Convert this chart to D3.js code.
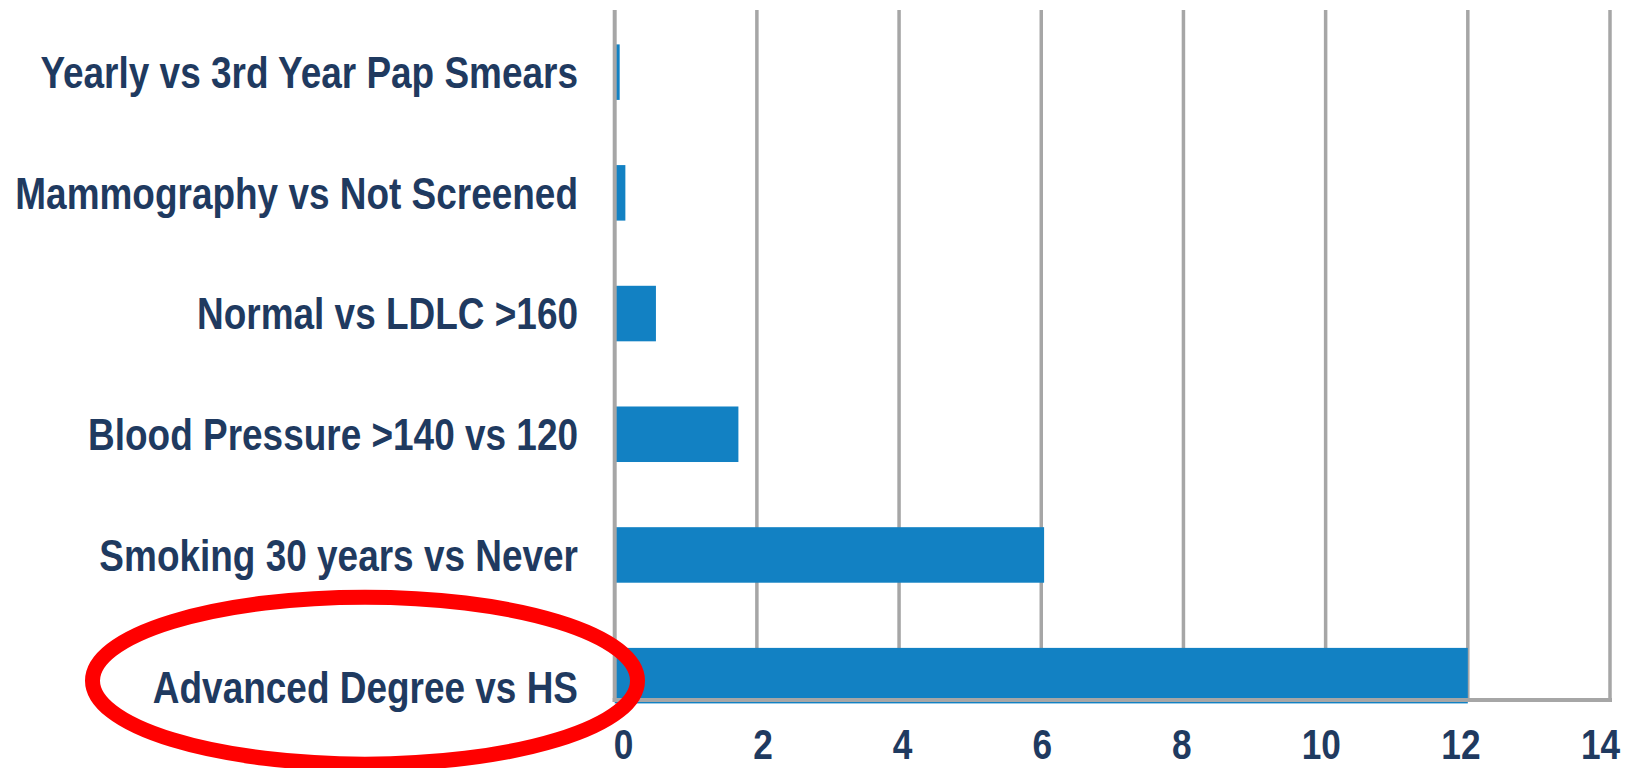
<!DOCTYPE html>
<html>
<head>
<meta charset="utf-8">
<script src="https://cdn.jsdelivr.net/npm/d3@7"></script>
<style>
  html, body { margin: 0; padding: 0; background: #fff; }
  svg { display: block; }
  text { font-family: "Liberation Sans Narrow", "Liberation Sans", Arial, sans-serif; font-weight: bold; }
</style>
</head>
<body>
<svg id="chart" width="1626" height="768"></svg>
<script>
const categories = [
  "Yearly vs 3rd Year Pap Smears",
  "Mammography vs Not Screened",
  "Normal vs LDLC >160",
  "Blood Pressure >140 vs 120",
  "Smoking 30 years vs Never",
  "Advanced Degree vs HS"
];
const values = [0.07, 0.15, 0.58, 1.74, 6.04, 12.0];
const tickValues = [0, 2, 4, 6, 8, 10, 12, 14];
const highlighted = "Advanced Degree vs HS";

const data = categories.map((c, i) => ({ cat: c, val: values[i] }));

const SVG = d3.select("#chart");
const TEXT = "#1f3a60";
const GRID = "#a6a6a6";
const BAR = "#1281c3";
const SQUEEZE = 0.84; // narrow look, the condensed face is not installed

const plot = { left: 614.7, right: 1610, top: 10, bottom: 700 };

const x = d3.scaleLinear().domain([0, 14]).range([plot.left, plot.right]);
// tick labels sit slightly inside the gridlines in the original
const xLab = d3.scaleLinear().domain([0, 14]).range([623, 1600]);

const y = d3.scaleBand()
  .domain(categories)
  .range([11.8, 736])
  .paddingInner(0.54)
  .paddingOuter(0.27);

// gridlines
SVG.append("g").selectAll("line")
  .data(tickValues.filter(d => d > 0))
  .join("line")
  .attr("x1", d => x(d)).attr("x2", d => x(d))
  .attr("y1", plot.top).attr("y2", plot.bottom)
  .attr("stroke", GRID)
  .attr("stroke-width", 3.5);

// bars
SVG.append("g").selectAll("rect")
  .data(data)
  .join("rect")
  .attr("x", x(0))
  .attr("y", d => y(d.cat))
  .attr("width", d => x(d.val) - x(0))
  .attr("height", y.bandwidth())
  .attr("fill", BAR);

// axis lines on top
SVG.append("line")
  .attr("x1", x(0)).attr("x2", x(0))
  .attr("y1", plot.top).attr("y2", plot.bottom + 2)
  .attr("stroke", GRID).attr("stroke-width", 4);
SVG.append("line")
  .attr("x1", x(0) - 2).attr("x2", x(14) + 2)
  .attr("y1", plot.bottom).attr("y2", plot.bottom)
  .attr("stroke", GRID).attr("stroke-width", 4);

// category labels (the last one sits a little low in the original)
SVG.append("g").selectAll("g")
  .data(categories)
  .join("g")
  .attr("transform", d => `translate(578,${y(d) + y.bandwidth() / 2 + (d === highlighted ? 11 : 0)}) scale(${SQUEEZE},1)`)
  .append("text")
  .attr("dy", "0.36em")
  .attr("text-anchor", "end")
  .attr("fill", TEXT)
  .style("font-size", "44px")
  .text(d => d);

// x tick labels
const xAxis = SVG.append("g")
  .attr("transform", `translate(0,${759})`)
  .call(d3.axisBottom(xLab).tickValues(tickValues).tickSize(0).tickPadding(0).tickFormat(d3.format("d")));
xAxis.select(".domain").remove();
xAxis.attr("font-family", null).attr("font-size", null);
xAxis.selectAll("text")
  .attr("y", 0)
  .attr("dy", 0)
  .attr("fill", TEXT)
  .attr("transform", `scale(${SQUEEZE},1)`)
  .style("font-size", "42px");

// red highlight ellipse around the last category
SVG.append("ellipse")
  .attr("cx", 365)
  .attr("cy", y(highlighted) + y.bandwidth() / 2 + 5)
  .attr("rx", 272.5)
  .attr("ry", 83.5)
  .attr("fill", "none")
  .attr("stroke", "#ff0000")
  .attr("stroke-width", 15);
</script>
</body>
</html>
